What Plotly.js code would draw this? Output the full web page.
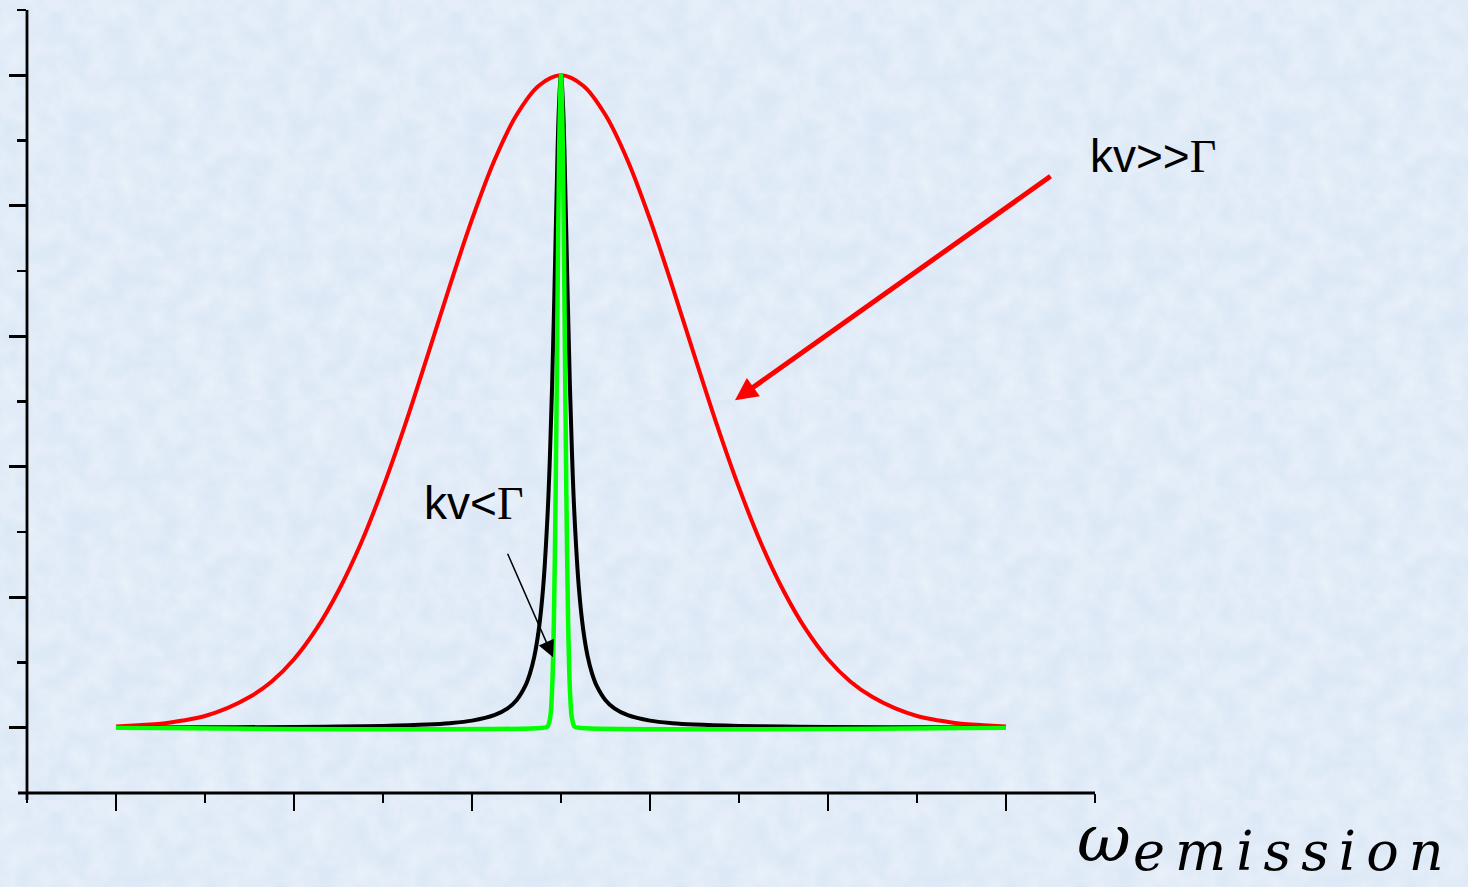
<!DOCTYPE html>
<html>
<head>
<meta charset="utf-8">
<script src="https://cdn.plot.ly/plotly-3.0.1.min.js"></script>
<style>
  html, body { margin: 0; padding: 0; }
  body {
    width: 1468px; height: 887px; overflow: hidden;
    background-color: #dce8f6;
    background-image: url("data:image/svg+xml;utf8,<svg xmlns='http://www.w3.org/2000/svg' width='400' height='400'><filter id='n'><feTurbulence type='fractalNoise' baseFrequency='0.045' numOctaves='4' seed='3'/><feColorMatrix values='0 0 0 0 1  0 0 0 0 1  0 0 0 0 1  0 0 0 0.55 -0.12'/></filter><rect width='100%' height='100%' filter='url(%23n)'/></svg>");
  }
  #chart { width: 1468px; height: 887px; }
</style>
</head>
<body>
<div id="chart"></div>
<script>
// ---- data (x in tick units, y normalised intensity) ----
const redX = [0,0.25,0.5,0.75,1,1.25,1.5,1.75,2,2.25,2.5,2.75,3,3.25,3.5,3.75,4,4.25,4.5,4.75,5,
              5.25,5.5,5.75,6,6.25,6.5,6.75,7,7.25,7.5,7.75,8,8.25,8.5,8.75,9,9.25,9.5,9.75,10];
const redY = [0.002,0.004,0.006,0.011,0.018,0.030,0.047,0.071,0.105,0.151,0.210,0.282,0.368,0.465,0.570,0.677,0.779,0.869,0.939,0.984,1.000,
              0.984,0.939,0.869,0.779,0.677,0.570,0.465,0.368,0.282,0.210,0.151,0.105,0.071,0.047,0.030,0.018,0.011,0.006,0.004,0.002];

const blackX = [0,1,2,2.5,3,3.5,3.75,4,4.25,4.4,4.5,4.6,4.65,4.7,4.75,4.8,4.85,4.875,4.9,4.925,4.95,4.975,5,
                5.025,5.05,5.075,5.1,5.125,5.15,5.2,5.25,5.3,5.35,5.4,5.5,5.6,5.75,6,6.25,6.5,7,7.5,8,9,10];
const blackY = [0.0004,0.0007,0.0012,0.0018,0.0028,0.0049,0.0070,0.0109,0.0192,0.0297,0.0422,0.0645,0.0826,0.109,0.150,0.216,0.329,0.414,0.524,0.662,0.815,0.946,1.0,
                0.946,0.815,0.662,0.524,0.414,0.329,0.216,0.150,0.109,0.0826,0.0645,0.0422,0.0297,0.0192,0.0109,0.0070,0.0049,0.0028,0.0018,0.0012,0.0007,0.0004];

const greenX = [0,4.8,4.85,4.88,4.9,4.92,4.94,4.96,4.98,5,5.02,5.04,5.06,5.08,5.1,5.12,5.15,5.2,10];
const greenY = [0,0,0.002,0.017,0.059,0.163,0.36,0.635,0.893,1,0.893,0.635,0.36,0.163,0.059,0.017,0.002,0,0];

const xMajorTicks = [0,2,4,6,8,10];
const xMinorTicks = [-1,1,3,5,7,9,11];
const yMajorTicks = [0,0.2,0.4,0.6,0.8,1.0];
const yMinorTicks = [0.1,0.3,0.5,0.7,0.9,1.1];

const labelWide = 'kv&gt;&gt;<span style="font-family:\'Liberation Serif\'">Γ</span>';
const labelNarrow = 'kv&lt;<span style="font-family:\'Liberation Serif\'">Γ</span>';
const axisSymbol = 'ω';
const axisSub = 'emission';

const traces = [
  {x: redX, y: redY, mode: 'lines', line: {color: '#ff0000', width: 4, shape: 'spline'}, hoverinfo: 'skip'},
  {x: blackX, y: blackY, mode: 'lines', line: {color: '#000000', width: 4, shape: 'spline', smoothing: 1}, hoverinfo: 'skip'},
  {x: greenX, y: greenY, mode: 'lines', line: {color: '#00ff00', width: 4.5, shape: 'spline', smoothing: 0.8}, hoverinfo: 'skip'}
];

const axisCommon = {
  showgrid: false, zeroline: false, showline: false,
  showticklabels: false, ticks: 'outside', ticklen: 17, tickwidth: 2.6, tickcolor: '#000',
  tickmode: 'array', fixedrange: true
};

const layout = {
  width: 1468, height: 887,
  margin: {l: 27, r: 373, t: 10, b: 94},
  paper_bgcolor: 'rgba(0,0,0,0)', plot_bgcolor: 'rgba(0,0,0,0)',
  showlegend: false,
  xaxis: Object.assign({}, axisCommon, {
    range: [-1, 11], tickvals: xMajorTicks,
    minor: {tickmode: 'array', tickvals: xMinorTicks, ticks: 'outside', ticklen: 9, tickwidth: 2.6, tickcolor: '#000', showgrid: false}
  }),
  yaxis: Object.assign({}, axisCommon, {
    range: [-0.1, 1.1], tickvals: yMajorTicks,
    minor: {tickmode: 'array', tickvals: yMinorTicks, ticks: 'outside', ticklen: 9, tickwidth: 2.6, tickcolor: '#000', showgrid: false}
  }),
  shapes: [
    {type: 'line', xref: 'paper', yref: 'paper', x0: -0.0084, x1: 1.0, y0: 0, y1: 0, line: {color: '#000', width: 2.8}},
    {type: 'line', xref: 'paper', yref: 'paper', x0: 0, x1: 0, y0: -0.009, y1: 1.0, line: {color: '#000', width: 2.8}}
  ],
  annotations: [
    {xref: 'x', yref: 'y', x: 6.955, y: 0.502, ax: 317, ay: -225, text: '', showarrow: true,
     arrowhead: 2, arrowsize: 0.9, arrowwidth: 5, arrowcolor: '#ff0000', standoff: 0},
    {xref: 'x', yref: 'y', x: 4.91, y: 0.108, ax: -46, ay: -105, text: '', showarrow: true,
     arrowhead: 2, arrowsize: 2.2, arrowwidth: 1.5, arrowcolor: '#000000', standoff: 0},
    {xref: 'paper', yref: 'paper', x: 1.0543, y: 0.8135, xanchor: 'center', yanchor: 'middle', showarrow: false,
     text: labelWide, font: {family: 'Liberation Sans, Arial, sans-serif', size: 46, color: '#000'}},
    {xref: 'paper', yref: 'paper', x: 0.4185, y: 0.3704, xanchor: 'center', yanchor: 'middle', showarrow: false,
     text: labelNarrow, font: {family: 'Liberation Sans, Arial, sans-serif', size: 46, color: '#000'}},
    {xref: 'paper', yref: 'paper', x: 1.0084, y: -0.0587, xanchor: 'center', yanchor: 'middle', showarrow: false,
     text: axisSymbol, font: {family: 'DejaVu Serif, serif', size: 66, style: 'italic', color: '#000'}},
    {xref: 'paper', yref: 'paper', x: 1.1854, y: -0.0747, xanchor: 'center', yanchor: 'middle', showarrow: false,
     text: '<span style="letter-spacing:10px">' + axisSub + '</span>',
     font: {family: 'DejaVu Serif, serif', size: 54, style: 'italic', color: '#000'}}
  ]
};

Plotly.newPlot('chart', traces, layout, {staticPlot: true, displayModeBar: false});
</script>
</body>
</html>
